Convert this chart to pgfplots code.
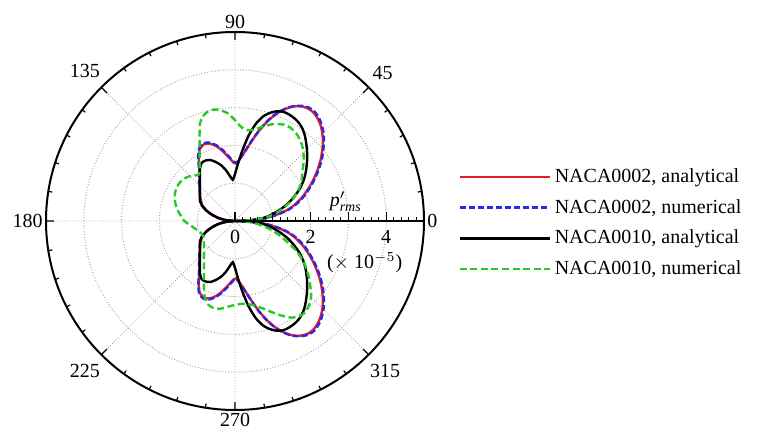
\documentclass[border=0pt]{standalone}
\usepackage{fontspec}
\setmainfont{Liberation Serif}
\usepackage{pgfplots}
\pgfplotsset{compat=1.18}
\usepgfplotslibrary{polar}
\definecolor{cred}{RGB}{228,30,36}
\definecolor{cblue}{RGB}{40,40,235}
\definecolor{cgreen}{RGB}{40,200,40}
\begin{document}
\fontsize{10bp}{12bp}\selectfont
\begin{tikzpicture}
\useasboundingbox (0,0) rectangle (378.5bp,216bp);
\begin{polaraxis}[
  at={(117.5bp,105.5bp)}, anchor=center,
  scale only axis, width=189bp, height=189bp,
  xmin=0, xmax=360, ymin=0, ymax=5,
  xtick={0,45,...,315},
  xticklabel={\pgfmathprintnumber{\tick}},
  minor x tick num=4,
  xtick align=outside,
  xticklabel style={inner sep=5.5bp},
  ytick={0,1,2,3,4,5},
  yticklabels={0,,2,,4,},
  minor y tick num=0,
  ytick style={draw=none},
  yticklabel style={anchor=north, yshift=-1bp},
  grid=major,
  major grid style={densely dotted, gray!75, line width=0.5bp},
  axis line style={line width=1bp},
  xtick style={black, line width=0.6bp},
  major tick length=4bp, minor tick length=2bp,
  /pgf/number format/assume math mode=true,
  tick label style={font=\fontsize{10bp}{12bp}\selectfont},
  legend style={draw=none, fill=none, inner sep=0pt, at={(1,0.5)}, anchor=west, xshift=17bp, yshift=-1bp,
    font=\fontsize{10bp}{12bp}\selectfont, row sep=3bp, legend cell align=left},
  legend image code/.code={\draw[#1] (0bp,0bp) -- (45bp,0bp);},
]
\addplot[cred, line width=1.2bp, smooth, tension=0.4] coordinates {
(0,0) (3,0.42) (6,0.85) (9,1.15) (12,1.42) (15,1.62) (18,1.80) (21,1.97) (24,2.13) (27,2.30) (30,2.47) (33,2.64) (36,2.81) (39,2.97) (42,3.13) (45,3.27) (48,3.39) (51,3.48) (54,3.54) (57,3.55) (60,3.50) (63,3.40) (66,3.24) (69,3.03) (72,2.77) (75,2.48) (78,2.18) (81,1.92) (84,1.72) (87,1.58) (89,1.52) (91,1.54) (94,1.63) (97,1.75) (100,1.88) (104,2.04) (108,2.15) (112,2.19) (116,2.12) (119,1.98) (122,1.80) (125,1.64) (128,1.52) (132,1.40) (136,1.30) (140,1.21) (145,1.12) (150,1.04) (155,0.95) (160,0.80) (165,0.62) (170,0.43) (175,0.22) (180,0)
(185,0.22) (190,0.43) (195,0.62) (200,0.80) (205,0.95) (210,1.04) (215,1.12) (220,1.21) (224,1.30) (228,1.40) (232,1.52) (235,1.64) (238,1.80) (241,1.98) (244,2.12) (248,2.19) (252,2.15) (256,2.04) (260,1.88) (263,1.75) (266,1.63) (269,1.54) (271,1.52) (273,1.58) (276,1.72) (279,1.92) (282,2.18) (285,2.48) (288,2.77) (291,3.03) (294,3.24) (297,3.40) (300,3.50) (303,3.55) (306,3.54) (309,3.48) (312,3.39) (315,3.27) (318,3.13) (321,2.97) (324,2.81) (327,2.64) (330,2.47) (333,2.30) (336,2.13) (339,1.97) (342,1.80) (345,1.62) (348,1.42) (351,1.15) (354,0.85) (357,0.42) (360,0)
};
\addlegendentry{NACA0002, analytical}
\addplot[cblue, line width=1.2bp, dash pattern=on 3bp off 1.5bp, smooth, tension=0.4] coordinates {
(0,0) (3,0.44) (6,0.87) (9,1.18) (12,1.45) (15,1.66) (18,1.84) (21,2.01) (24,2.17) (27,2.34) (30,2.51) (33,2.68) (36,2.85) (39,3.01) (42,3.17) (45,3.31) (48,3.43) (51,3.52) (54,3.58) (57,3.58) (60,3.52) (63,3.41) (66,3.25) (69,3.04) (72,2.78) (75,2.49) (78,2.19) (81,1.93) (84,1.73) (87,1.59) (89,1.54) (91,1.56) (94,1.66) (97,1.78) (100,1.91) (104,2.07) (108,2.18) (112,2.22) (116,2.15) (119,2.00) (122,1.82) (125,1.66) (128,1.54) (132,1.42) (136,1.31) (140,1.22) (145,1.13) (150,1.05) (155,0.96) (160,0.81) (165,0.63) (170,0.44) (175,0.23) (180,0)
(185,0.23) (190,0.44) (195,0.63) (200,0.81) (205,0.96) (210,1.05) (215,1.13) (220,1.22) (224,1.31) (228,1.42) (232,1.54) (235,1.66) (238,1.82) (241,2.00) (244,2.15) (248,2.22) (252,2.18) (256,2.07) (260,1.91) (263,1.78) (266,1.66) (269,1.56) (271,1.54) (273,1.59) (276,1.73) (279,1.93) (282,2.19) (285,2.49) (288,2.78) (291,3.04) (294,3.25) (297,3.41) (300,3.52) (303,3.58) (306,3.58) (309,3.52) (312,3.43) (315,3.31) (318,3.17) (321,3.01) (324,2.85) (327,2.68) (330,2.51) (333,2.34) (336,2.17) (339,2.01) (342,1.84) (345,1.66) (348,1.45) (351,1.18) (354,0.87) (357,0.44) (360,0)
};
\addlegendentry{NACA0002, numerical}
\addplot[black, line width=1.2bp, smooth, tension=0.4] coordinates {
(0,0) (3,0.45) (6,0.75) (9,0.93) (12,1.10) (15,1.28) (18,1.46) (21,1.62) (24,1.78) (27,1.94) (30,2.08) (33,2.21) (36,2.33) (39,2.45) (42,2.57) (45,2.69) (48,2.81) (51,2.93) (54,3.03) (57,3.10) (60,3.14) (63,3.16) (66,3.16) (69,3.11) (72,3.01) (75,2.86) (78,2.62) (81,2.28) (84,1.88) (87,1.52) (90,1.24) (93,1.09) (96,1.18) (100,1.36) (104,1.52) (108,1.64) (112,1.74) (116,1.78) (120,1.77) (124,1.66) (128,1.51) (132,1.39) (136,1.29) (140,1.21) (145,1.14) (150,1.07) (155,0.96) (160,0.80) (165,0.62) (170,0.43) (175,0.22) (180,0)
(185,0.22) (190,0.43) (195,0.62) (200,0.80) (205,0.96) (210,1.07) (215,1.14) (220,1.21) (224,1.29) (228,1.39) (232,1.51) (236,1.66) (240,1.77) (244,1.78) (248,1.74) (252,1.64) (256,1.52) (260,1.36) (264,1.18) (267,1.09) (270,1.24) (273,1.52) (276,1.88) (279,2.28) (282,2.62) (285,2.86) (288,3.01) (291,3.11) (294,3.16) (297,3.16) (300,3.14) (303,3.10) (306,3.03) (309,2.93) (312,2.81) (315,2.69) (318,2.57) (321,2.45) (324,2.33) (327,2.21) (330,2.08) (333,1.94) (336,1.78) (339,1.62) (342,1.46) (345,1.28) (348,1.10) (351,0.93) (354,0.75) (357,0.45) (360,0)
};
\addlegendentry{NACA0010, analytical}
\addplot[cgreen, line width=1.2bp, dash pattern=on 3.5bp off 1.8bp, smooth, tension=0.4] coordinates {
(0,0) (3,0.45) (6,0.75) (9,1.00) (13,1.22) (17,1.44) (20,1.60) (23,1.74) (26,1.86) (29,1.98) (32,2.08) (35,2.17) (38,2.28) (41,2.41) (45,2.56) (49,2.69) (54,2.81) (59,2.87) (63,2.86) (68,2.77) (73,2.62) (77,2.50) (81,2.43) (84,2.44) (87,2.52) (90,2.67) (94,2.86) (98,2.97) (101,3.00) (104,2.98) (107,2.90) (110,2.72) (113,2.40) (116,2.13) (119,1.93) (122,1.77) (125,1.63) (128,1.56) (131,1.60) (135,1.68) (140,1.75) (145,1.78) (150,1.78) (155,1.75) (160,1.70) (165,1.62) (170,1.53) (175,1.43) (180,1.34)
(185,1.20) (190,1.09) (195,1.00) (200,0.95) (205,0.93) (210,0.95) (215,1.00) (220,1.07) (225,1.16) (230,1.28) (235,1.43) (240,1.64) (244,1.88) (248,2.15) (252,2.32) (256,2.37) (260,2.36) (265,2.28) (270,2.22) (275,2.20) (280,2.24) (284,2.32) (288,2.44) (292,2.60) (296,2.78) (300,2.95) (304,3.04) (307,3.05) (310,3.00) (313,2.92) (316,2.80) (319,2.64) (322,2.50) (325,2.33) (328,2.18) (331,2.00) (334,1.80) (337,1.58) (340,1.36) (343,1.18) (346,1.00) (349,0.80) (352,0.62) (355,0.42) (358,0.20) (360,0)
};
\addlegendentry{NACA0010, numerical}
\draw[line width=1bp] (axis cs:0,0) -- (axis cs:0,5);
\pgfplotsinvokeforeach{0,1,2,3,4}{
  \draw[line width=0.6bp] (axis cs:0,#1) -- ++(0,4.5bp);
  \draw[line width=0.5bp] (axis cs:0,#1.2) -- ++(0,2.2bp);
  \draw[line width=0.5bp] (axis cs:0,#1.4) -- ++(0,2.2bp);
  \draw[line width=0.5bp] (axis cs:0,#1.6) -- ++(0,2.2bp);
  \draw[line width=0.5bp] (axis cs:0,#1.8) -- ++(0,2.2bp);
}
\node[anchor=south] at ([yshift=1bp]axis cs:0,2.93) {$\textit{p}'_{\mathit{rms}}$};
\node at ([yshift=-21bp]axis cs:0,3.43) {($\times$ 10$^{-5}$)};
\end{polaraxis}
\end{tikzpicture}
\end{document}
